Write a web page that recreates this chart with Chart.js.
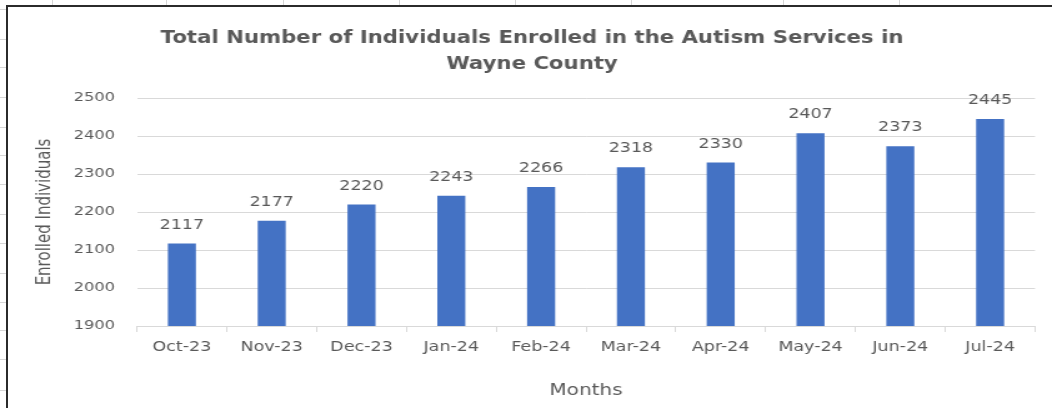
<!DOCTYPE html>
<html>
<head>
<meta charset="utf-8">
<script src="https://cdn.jsdelivr.net/npm/chart.js@4/dist/chart.umd.min.js"></script>
<style>
  html, body { margin: 0; padding: 0; background: #fff; overflow: hidden; }
  body { width: 1052px; height: 408px; position: relative; }
  #wrap { position: absolute; left: 0; top: 0; width: 842px; height: 408px;
          transform-origin: 0 0; transform: scaleX(1.249406); }
  #c { display: block; }
  #deco { position: absolute; left: 0; top: 0; width: 1052px; height: 408px; pointer-events: none; }
</style>
</head>
<body>
<div id="wrap"><canvas id="c" width="842" height="408"></canvas></div>
<svg id="deco" width="1052" height="408" xmlns="http://www.w3.org/2000/svg"></svg>
<script>
const categories = ["Oct-23","Nov-23","Dec-23","Jan-24","Feb-24","Mar-24","Apr-24","May-24","Jun-24","Jul-24"];
const enrolled = [2117, 2177, 2220, 2243, 2266, 2318, 2330, 2407, 2373, 2445];
const titleLines = ["Total Number of Individuals Enrolled in the Autism Services in", "Wayne County"];
const yTitle = "Enrolled Individuals";
const xTitle = "Months";
const yMin = 1900, yMax = 2500, yStep = 100;

// spreadsheet background marks around the chart frame (decoration only)
const rowMarks = [9, 39, 67, 97, 127, 155, 184, 214, 243, 273, 302, 330, 359, 390];
const colMarks = [52, 166, 283, 399, 515, 631, 783, 899];
(function drawDeco() {
  const svg = document.getElementById('deco');
  const NS = 'http://www.w3.org/2000/svg';
  const line = (x1, y1, x2, y2, stroke, w) => {
    const l = document.createElementNS(NS, 'line');
    l.setAttribute('x1', x1); l.setAttribute('y1', y1);
    l.setAttribute('x2', x2); l.setAttribute('y2', y2);
    l.setAttribute('stroke', stroke); l.setAttribute('stroke-width', w);
    svg.appendChild(l);
  };
  rowMarks.forEach(y => line(0, y + 0.5, 6, y + 0.5, '#d6d6d6', 1));
  colMarks.forEach(x => line(x + 0.5, 0, x + 0.5, 5, '#d6d6d6', 1));
  line(7, 6, 1052, 6, '#2b2b2b', 2);
  line(7, 5, 7, 408, '#2b2b2b', 2);
})();

const FONT = "'DejaVu Sans', 'Open Sans', sans-serif";
const TXT = '#595959';
const GRID = '#d9d9d9';

const dataLabels = {
  id: 'dataLabels',
  afterDatasetsDraw(chart) {
    const ctx = chart.ctx;
    const meta = chart.getDatasetMeta(0);
    ctx.save();
    ctx.font = '14px ' + FONT;
    ctx.fillStyle = TXT;
    ctx.textAlign = 'center';
    ctx.textBaseline = 'middle';
    meta.data.forEach((bar, i) => {
      ctx.fillText(String(chart.data.datasets[0].data[i]), bar.x, bar.y - 18.5);
    });
    ctx.restore();
  }
};

new Chart(document.getElementById('c'), {
  type: 'bar',
  data: {
    labels: categories,
    datasets: [{
      data: enrolled,
      backgroundColor: '#4472C4',
      borderWidth: 0,
      categoryPercentage: 1.0,
      barPercentage: 0.312
    }]
  },
  plugins: [dataLabels],
  options: {
    responsive: false,
    animation: false,
    layout: { padding: { left: 23.2, right: 13.6, top: 0, bottom: 0 } },
    plugins: {
      legend: { display: false },
      tooltip: { enabled: false },
      title: {
        display: true,
        text: titleLines,
        color: TXT,
        font: { family: FONT, size: 17, weight: 'bold', lineHeight: 26 / 17 },
        padding: { top: 26, bottom: 20 }
      }
    },
    scales: {
      x: {
        afterFit(scale) { scale.height = 82; },
        grid: { display: true, drawOnChartArea: false, drawTicks: true, tickLength: 6, color: GRID },
        border: { display: true, color: GRID },
        ticks: { color: TXT, font: { family: FONT, size: 14 }, padding: 7, maxRotation: 0, autoSkip: false },
        title: { display: true, text: xTitle, color: TXT, font: { family: FONT, size: 16 }, padding: { top: 0, bottom: 7.4 } }
      },
      y: {
        min: yMin, max: yMax,
        afterFit(scale) { scale.width = 86.45; },
        grid: { color: GRID, drawTicks: false },
        border: { display: false },
        ticks: { stepSize: yStep, color: TXT, font: { family: FONT, size: 13 }, padding: 17.6,
                 callback: (v) => String(v) },
        title: { display: true, text: yTitle, color: TXT, font: { family: FONT, size: 15 }, padding: { top: 3.8, bottom: 0 } }
      }
    }
  }
});
</script>
</body>
</html>
